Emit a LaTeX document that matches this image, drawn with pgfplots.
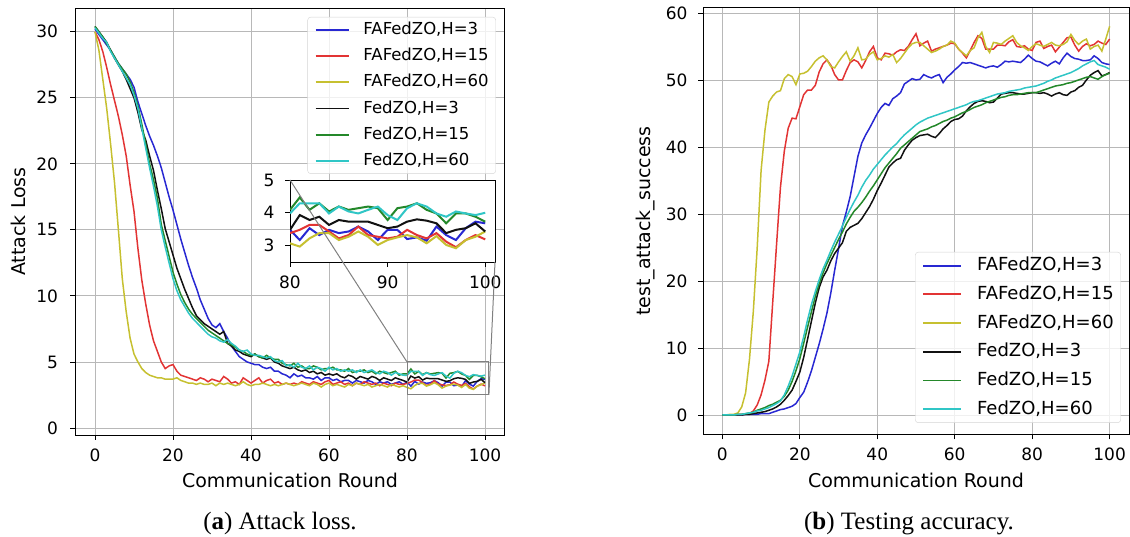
\documentclass[border=0pt]{standalone}
\usepackage{fontspec}
\setmainfont{DejaVu Sans}
\newfontfamily\capfont{Liberation Serif}
\usepackage{pgfplots}
\usepackage{pgfplotstable}
\pgfplotsset{compat=1.18}

\definecolor{mb}{HTML}{2828D2}
\definecolor{mr}{HTML}{E23434}
\definecolor{my}{HTML}{C6C030}
\definecolor{mk}{HTML}{111111}
\definecolor{mg}{HTML}{24882A}
\definecolor{mc}{HTML}{30C6C6}
\definecolor{gridgray}{HTML}{B8B8B8}
\definecolor{leggray}{HTML}{D4D4D4}

% attack loss, columns: round, FAFedZO H=3/15/60, FedZO H=3/15/60
\pgfplotstableread{
x a b c d e f
0 30.2 30.0 30.0 30.4 30.4 30.3
1 29.8 29.4 28.6 30.0 30.0 29.9
2 29.4 28.5 26.4 29.6 29.6 29.5
3 29.0 27.3 24.2 29.2 29.1 29.2
4 28.6 26.0 21.5 28.6 28.6 28.5
5 28.1 24.8 18.6 28.0 28.1 28.0
6 27.6 23.6 15.0 27.5 27.6 27.5
7 27.2 22.2 11.3 27.0 27.2 27.0
8 26.8 20.6 8.8 26.4 26.8 26.5
9 26.4 18.4 6.8 25.7 26.2 26.0
10 25.8 16.4 5.6 25.0 25.4 25.2
11 24.7 13.6 5.0 23.9 24.4 24.2
12 23.8 11.2 4.5 22.6 23.0 22.7
13 22.9 9.4 4.2 21.8 21.5 21.2
14 22.1 7.8 4.0 20.6 20.0 19.7
15 21.4 6.6 3.9 19.5 18.8 18.3
16 20.6 5.8 3.8 18.0 17.4 16.8
17 19.7 5.0 3.8 16.6 15.4 15.0
18 18.6 4.5 3.7 15.1 14.2 13.7
19 17.5 4.7 3.7 14.1 13.0 12.5
20 16.5 4.8 3.7 13.1 11.8 11.3
21 15.4 4.3 3.8 12.1 10.9 10.4
22 14.3 4.0 3.6 11.3 10.1 9.7
23 13.3 3.9 3.5 10.5 9.5 9.2
24 12.3 3.8 3.4 9.8 9.0 8.7
25 11.4 3.7 3.4 9.1 8.6 8.3
26 10.6 3.6 3.3 8.5 8.3 8.0
27 9.7 3.8 3.4 8.2 8.0 7.7
28 9.0 3.7 3.3 7.9 7.7 7.4
29 8.3 3.5 3.3 7.7 7.4 7.1
30 7.8 3.7 3.4 7.5 7.2 6.9
31 7.6 3.6 3.2 7.3 7.0 6.8
32 7.9 3.5 3.4 7.1 6.8 6.6
33 7.3 3.9 3.3 7.3 6.6 6.5
34 6.8 3.7 3.4 6.4 6.4 6.7
35 6.2 3.4 3.3 6.2 6.3 6.4
36 5.8 3.5 3.2 5.9 6.1 6.2
37 5.4 3.3 3.3 5.8 5.9 5.9
38 5.2 3.8 3.5 5.6 5.8 5.8
39 5.0 3.6 3.3 5.5 5.6 5.9
40 4.9 3.4 3.2 5.4 5.5 5.6
41 4.8 3.6 3.3 5.6 5.6 5.5
42 4.8 3.8 3.3 5.4 5.4 5.5
43 4.6 3.4 3.4 5.3 5.3 5.4
44 4.5 3.6 3.3 5.2 5.5 5.3
45 4.6 3.7 3.2 5.3 5.3 5.4
46 4.3 3.4 3.3 5.0 5.2 5.1
47 4.3 3.5 3.2 4.9 5.2 5.0
48 4.1 3.3 3.3 4.7 4.9 5.1
49 4.0 3.4 3.4 4.6 4.8 4.7
50 3.8 3.3 3.3 4.5 4.7 4.8
51 4.1 3.4 3.2 4.6 4.9 4.6
52 3.9 3.3 3.3 4.4 4.6 4.9
53 4.0 3.5 3.4 4.3 4.7 4.6
54 3.8 3.4 3.3 4.4 4.5 4.5
55 3.8 3.3 3.2 4.2 4.5 4.7
56 3.7 3.5 3.4 4.3 4.7 4.4
57 3.9 3.4 3.3 4.1 4.6 4.6
58 3.6 3.3 3.1 4.2 4.4 4.5
59 3.8 3.5 3.3 4.0 4.5 4.3
60 3.8 3.6 3.4 4.1 4.5 4.6
61 3.6 3.3 3.2 4.0 4.6 4.4
62 3.7 3.4 3.3 4.1 4.4 4.5
63 3.5 3.5 3.2 3.9 4.4 4.3
64 3.6 3.3 3.1 3.8 4.3 4.4
65 3.6 3.4 3.3 4.0 4.5 4.3
66 3.4 3.2 3.2 3.9 4.2 4.4
67 3.6 3.4 3.4 3.7 4.3 4.2
68 3.5 3.3 3.3 3.9 4.3 4.4
69 3.4 3.5 3.2 3.8 4.4 4.2
70 3.6 3.4 3.3 3.7 4.2 4.3
71 3.5 3.3 3.1 3.9 4.3 4.4
72 3.3 3.4 3.2 3.8 4.1 4.2
73 3.5 3.2 3.3 3.6 4.3 4.1
74 3.4 3.4 3.2 3.8 4.2 4.3
75 3.5 3.3 3.1 3.7 4.1 4.2
76 3.3 3.2 3.3 3.6 4.2 4.0
77 3.4 3.4 3.2 3.8 4.3 4.2
78 3.5 3.3 3.1 3.7 4.0 4.1
79 3.3 3.3 3.2 3.6 4.1 4.0
80 3.48 3.38 3.07 3.48 4.09 3.98
81 3.17 3.48 2.97 3.93 4.47 4.29
82 3.53 3.63 3.22 3.78 4.09 4.29
83 3.32 3.63 3.38 3.88 4.29 4.29
84 3.48 3.43 3.38 3.63 4.04 3.98
85 3.38 3.22 3.17 3.78 4.19 4.19
86 3.43 3.32 3.27 3.73 4.09 4.04
87 3.58 3.58 3.43 3.73 4.14 3.98
88 3.43 3.32 3.27 3.73 4.19 4.09
89 3.17 3.27 3.02 3.63 4.14 4.19
90 3.48 3.22 3.17 3.53 3.78 3.93
91 3.48 3.27 3.25 3.58 4.14 3.78
92 3.20 3.48 3.32 3.73 4.19 4.14
93 3.25 3.32 3.25 3.80 4.29 4.29
94 3.15 3.22 3.07 3.76 4.09 4.19
95 3.58 3.38 3.29 3.68 3.98 3.98
96 3.32 3.12 3.02 3.38 3.68 3.88
97 3.17 2.95 2.92 3.48 3.98 4.04
98 3.53 3.17 3.17 3.53 3.98 3.98
99 3.73 3.32 3.27 3.68 3.88 3.93
100 3.68 3.19 3.43 3.43 3.73 4.00
}\losstab

% test attack success, same columns
\pgfplotstableread{
x a b c d e f
0 0.0 0.0 0.0 0.0 0.0 0.0
1 0.0 0.0 0.0 0.0 0.0 0.0
2 0.0 0.0 0.1 0.0 0.0 0.0
3 0.0 0.0 0.1 0.0 0.0 0.0
4 0.0 0.1 0.3 0.0 0.1 0.1
5 0.0 0.1 1.2 0.0 0.1 0.1
6 0.1 0.1 3.3 0.1 0.2 0.2
7 0.1 0.2 8.3 0.1 0.3 0.3
8 0.1 0.6 15.5 0.2 0.4 0.4
9 0.1 1.5 25.0 0.3 0.7 0.6
10 0.2 3.0 36.5 0.4 0.9 0.7
11 0.2 5.2 42.5 0.5 1.1 0.9
12 0.2 8.0 46.7 0.7 1.4 1.1
13 0.4 16.8 47.6 0.9 1.6 1.4
14 0.6 25.5 48.2 1.2 1.9 1.7
15 0.8 34.0 48.4 1.6 2.2 2.1
16 0.9 39.4 50.2 2.2 2.8 3.0
17 1.1 42.8 50.8 2.9 3.7 4.3
18 1.3 44.3 50.5 3.7 5.0 5.8
19 1.7 44.2 49.3 5.0 6.6 7.6
20 2.6 46.0 50.9 6.4 8.4 9.4
21 3.4 47.8 51.0 8.6 10.7 11.7
22 4.9 48.5 51.3 11.3 13.1 14.2
23 6.6 48.5 52.0 14.0 15.4 16.5
24 8.6 49.2 52.8 16.7 17.7 18.4
25 10.6 51.2 53.3 19.0 19.6 20.2
26 12.8 52.4 53.6 20.6 21.2 21.8
27 15.2 53.0 53.0 21.6 22.6 23.1
28 18.2 52.2 52.0 23.0 23.8 24.5
29 21.6 50.8 51.8 24.1 25.0 25.8
30 24.8 50.0 52.7 24.9 26.2 27.0
31 28.2 50.0 53.5 25.7 27.3 28.2
32 30.3 51.4 54.2 27.4 28.5 29.5
33 32.6 52.6 52.8 28.0 29.5 30.7
34 35.6 53.0 53.6 28.3 30.4 31.8
35 38.6 52.7 54.8 28.6 31.0 32.8
36 40.6 51.8 53.0 29.3 31.7 34.0
37 41.8 52.9 53.1 30.2 32.5 35.0
38 42.8 54.2 53.8 31.1 33.4 35.8
39 43.9 55.0 54.2 32.2 34.2 36.7
40 45.0 53.3 53.0 33.5 35.1 37.4
41 45.9 53.0 53.2 34.6 36.0 38.1
42 46.5 54.0 53.6 35.8 36.9 38.8
43 46.2 53.9 53.4 37.0 37.6 39.4
44 47.2 53.7 53.8 37.6 38.3 40.0
45 47.6 54.2 52.6 38.1 39.0 40.5
46 48.1 54.5 53.2 38.3 39.8 41.2
47 49.4 54.4 54.0 39.5 40.3 41.8
48 49.8 55.0 54.8 40.3 40.8 42.3
49 50.2 56.0 55.4 41.0 41.3 42.8
50 50.0 56.9 55.6 41.4 41.8 43.3
51 50.1 55.1 55.6 41.7 42.3 43.7
52 50.8 55.5 55.1 41.8 42.5 44.0
53 50.5 55.8 54.6 41.9 42.7 44.3
54 50.3 54.3 54.1 41.6 43.0 44.5
55 50.6 54.6 54.3 41.4 43.2 44.7
56 50.8 54.8 54.6 42.0 43.5 44.9
57 49.6 55.0 55.0 42.7 43.8 45.1
58 50.4 55.2 55.2 43.2 44.0 45.3
59 50.9 55.5 55.8 43.8 44.3 45.5
60 51.5 55.4 55.5 44.1 44.5 45.7
61 52.0 54.6 54.6 44.2 44.8 45.9
62 52.6 54.0 54.1 44.6 45.1 46.1
63 52.5 53.3 53.6 45.4 45.3 46.3
64 52.6 54.4 54.4 46.0 45.6 46.6
65 52.4 55.6 54.8 46.5 45.9 46.8
66 52.2 56.6 56.3 46.8 46.1 46.9
67 52.0 56.2 57.1 46.9 46.3 47.1
68 51.8 54.6 55.0 46.8 46.6 47.3
69 52.0 54.6 54.1 46.6 46.8 47.5
70 52.1 54.6 55.6 46.7 47.0 47.7
71 51.9 55.2 55.5 47.3 47.2 47.9
72 52.3 55.2 55.3 47.9 47.4 48.0
73 52.8 55.1 55.8 48.0 47.5 48.1
74 52.7 55.7 56.2 48.1 47.7 48.3
75 52.8 56.0 56.6 48.1 47.8 48.4
76 52.7 55.0 55.6 48.0 47.8 48.5
77 52.6 54.9 55.1 47.9 47.9 48.6
78 53.1 55.1 54.8 47.9 48.0 48.8
79 53.7 54.6 54.4 48.0 48.1 48.9
80 53.2 54.4 55.0 48.1 48.1 49.0
81 52.8 55.6 55.4 48.1 48.1 49.1
82 52.7 55.8 55.2 48.0 48.3 49.3
83 52.4 54.7 55.0 48.1 48.5 49.5
84 52.1 55.0 55.3 47.9 48.7 49.8
85 52.5 55.2 55.6 47.6 48.9 50.0
86 52.8 54.2 55.2 47.9 49.1 50.3
87 52.4 54.9 55.1 48.1 49.2 50.5
88 53.3 55.6 55.3 47.8 49.3 50.7
89 54.0 56.3 55.7 47.7 49.5 50.9
90 53.5 56.4 56.8 48.2 49.6 51.1
91 53.2 55.2 55.9 48.4 49.8 51.4
92 53.1 54.3 55.3 48.9 50.0 51.7
93 52.9 55.0 55.8 49.2 50.2 52.1
94 52.9 55.4 56.1 50.0 50.4 52.4
95 53.0 55.1 54.6 50.7 50.5 52.7
96 53.6 55.3 55.0 51.1 50.3 52.9
97 53.2 55.8 55.2 51.4 50.1 52.3
98 52.6 55.5 54.3 50.6 50.5 52.1
99 52.4 55.3 56.1 50.8 50.8 51.9
100 52.3 56.1 58.0 51.1 51.0 51.6
}\acctab

\pgfplotsset{
  mpl/.style={
    scale only axis,
    anchor=south west,
    no markers,
    axis line style={black, line width=0.9pt},
    grid=major,
    grid style={gridgray, line width=0.9pt},
    tick align=outside,
    major tick length=5pt,
    tick style={black, line width=0.9pt},
    xtick pos=bottom, ytick pos=left,
    /pgf/number format/assume math mode=true,
    tick label style={font=\fontsize{17}{20}\selectfont},
    xticklabel style={yshift=-5pt},
    yticklabel style={xshift=-7pt},
    label style={font=\fontsize{19}{22}\selectfont},
    every axis plot/.append style={line width=1.5pt},
    legend cell align=left,
  },
}

\begin{document}
\begin{tikzpicture}
\path[use as bounding box] (0pt,0pt) rectangle (1130pt,537pt);

% (a) attack loss
\begin{axis}[mpl,
    at={(75.5pt,102pt)}, width=429pt, height=427pt,
    xmin=-5, xmax=105, ymin=-0.53, ymax=31.8,
    xtick={0,20,...,100}, ytick={0,5,...,30},
    yticklabel style={xshift=-2pt},
    xlabel={Communication Round}, ylabel={Attack Loss},
    xlabel style={at={(axis description cs:0.5,0)}, anchor=base, yshift=-53pt},
    ylabel style={at={(axis description cs:-0.134,0.5)}, anchor=center},
    legend image code/.code={\draw[#1, line width=1.8pt] (0pt,0pt) -- (33pt,0pt);},
    legend style={at={(0.98,0.979)}, anchor=north east,
      draw=leggray, rounded corners=3pt, fill=white, fill opacity=0.8, text opacity=1,
      font=\fontsize{16.5}{19}\selectfont, inner xsep=7pt, inner ysep=5pt,
      row sep=11.3pt, nodes={inner sep=0pt, text height=12pt, text depth=3pt},
      /tikz/every odd column/.append style={column sep=14pt}},
]
\addplot[mb] table[x=x, y=a] {\losstab};
\addlegendentry{FAFedZO,H=3}
\addplot[mr] table[x=x, y=b] {\losstab};
\addlegendentry{FAFedZO,H=15}
\addplot[my] table[x=x, y=c] {\losstab};
\addlegendentry{FAFedZO,H=60}
\addplot[mk] table[x=x, y=d] {\losstab};
\addlegendentry{FedZO,H=3}
\addplot[mg] table[x=x, y=e] {\losstab};
\addlegendentry{FedZO,H=15}
\addplot[mc] table[x=x, y=f] {\losstab};
\addlegendentry{FedZO,H=60}
\draw[gray, line width=1pt] (axis cs:80,2.5) rectangle (axis cs:101,5);
\coordinate (za) at (axis cs:80,5);
\coordinate (zb) at (axis cs:101,2.5);
\end{axis}

% zoomed inset
\begin{axis}[mpl,
    name=inset,
    at={(290pt,275pt)}, width=205pt, height=82pt,
    grid=none,
    axis background/.style={fill=white},
    every axis plot/.append style={line width=2pt},
    xmin=80, xmax=101, ymin=2.5, ymax=5,
    xtick={80,90,100}, ytick={3,4,5},
]
\addplot[mb, restrict x to domain=80:100] table[x=x, y=a] {\losstab};
\addplot[mr, restrict x to domain=80:100] table[x=x, y=b] {\losstab};
\addplot[my, restrict x to domain=80:100] table[x=x, y=c] {\losstab};
\addplot[mk, restrict x to domain=80:100] table[x=x, y=d] {\losstab};
\addplot[mg, restrict x to domain=80:100] table[x=x, y=e] {\losstab};
\addplot[mc, restrict x to domain=80:100] table[x=x, y=f] {\losstab};
\end{axis}
\draw[gray, line width=1pt] (za) -- (inset.north west);
\draw[gray, line width=1pt] (zb) -- (inset.south east);

% (b) test attack success
\begin{axis}[mpl,
    at={(703pt,102.6pt)}, width=426pt, height=426.8pt,
    xmin=-5, xmax=105, ymin=-2.9, ymax=60.8,
    xtick={0,20,...,100}, ytick={0,10,...,60},
    xlabel={Communication Round}, ylabel={test\_attack\_success},
    xlabel style={at={(axis description cs:0.5,0)}, anchor=base, yshift=-53.6pt},
    ylabel style={at={(axis description cs:-0.136,0.5)}, anchor=center},
    legend image code/.code={\draw[#1, line width=1.8pt] (0pt,0pt) -- (38pt,0pt);},
    legend style={at={(0.981,0.027)}, anchor=south east,
      draw=leggray, rounded corners=3pt, fill=white, fill opacity=0.8, text opacity=1,
      font=\fontsize{18}{21}\selectfont, inner xsep=7pt, inner ysep=5pt,
      row sep=11.7pt, nodes={inner sep=0pt, text height=13.5pt, text depth=3.5pt},
      /tikz/every odd column/.append style={column sep=15pt}},
]
\addplot[mb] table[x=x, y=a] {\acctab};
\addlegendentry{FAFedZO,H=3}
\addplot[mr] table[x=x, y=b] {\acctab};
\addlegendentry{FAFedZO,H=15}
\addplot[my] table[x=x, y=c] {\acctab};
\addlegendentry{FAFedZO,H=60}
\addplot[mk] table[x=x, y=d] {\acctab};
\addlegendentry{FedZO,H=3}
\addplot[mg] table[x=x, y=e] {\acctab};
\addlegendentry{FedZO,H=15}
\addplot[mc] table[x=x, y=f] {\acctab};
\addlegendentry{FedZO,H=60}
\end{axis}

\node[anchor=base, font=\capfont\fontsize{25}{29}\selectfont] at (280pt,7pt) {(\textbf{a}) Attack loss.};
\node[anchor=base, font=\capfont\fontsize{25}{29}\selectfont] at (909pt,7pt) {(\textbf{b}) Testing accuracy.};
\end{tikzpicture}
\end{document}
